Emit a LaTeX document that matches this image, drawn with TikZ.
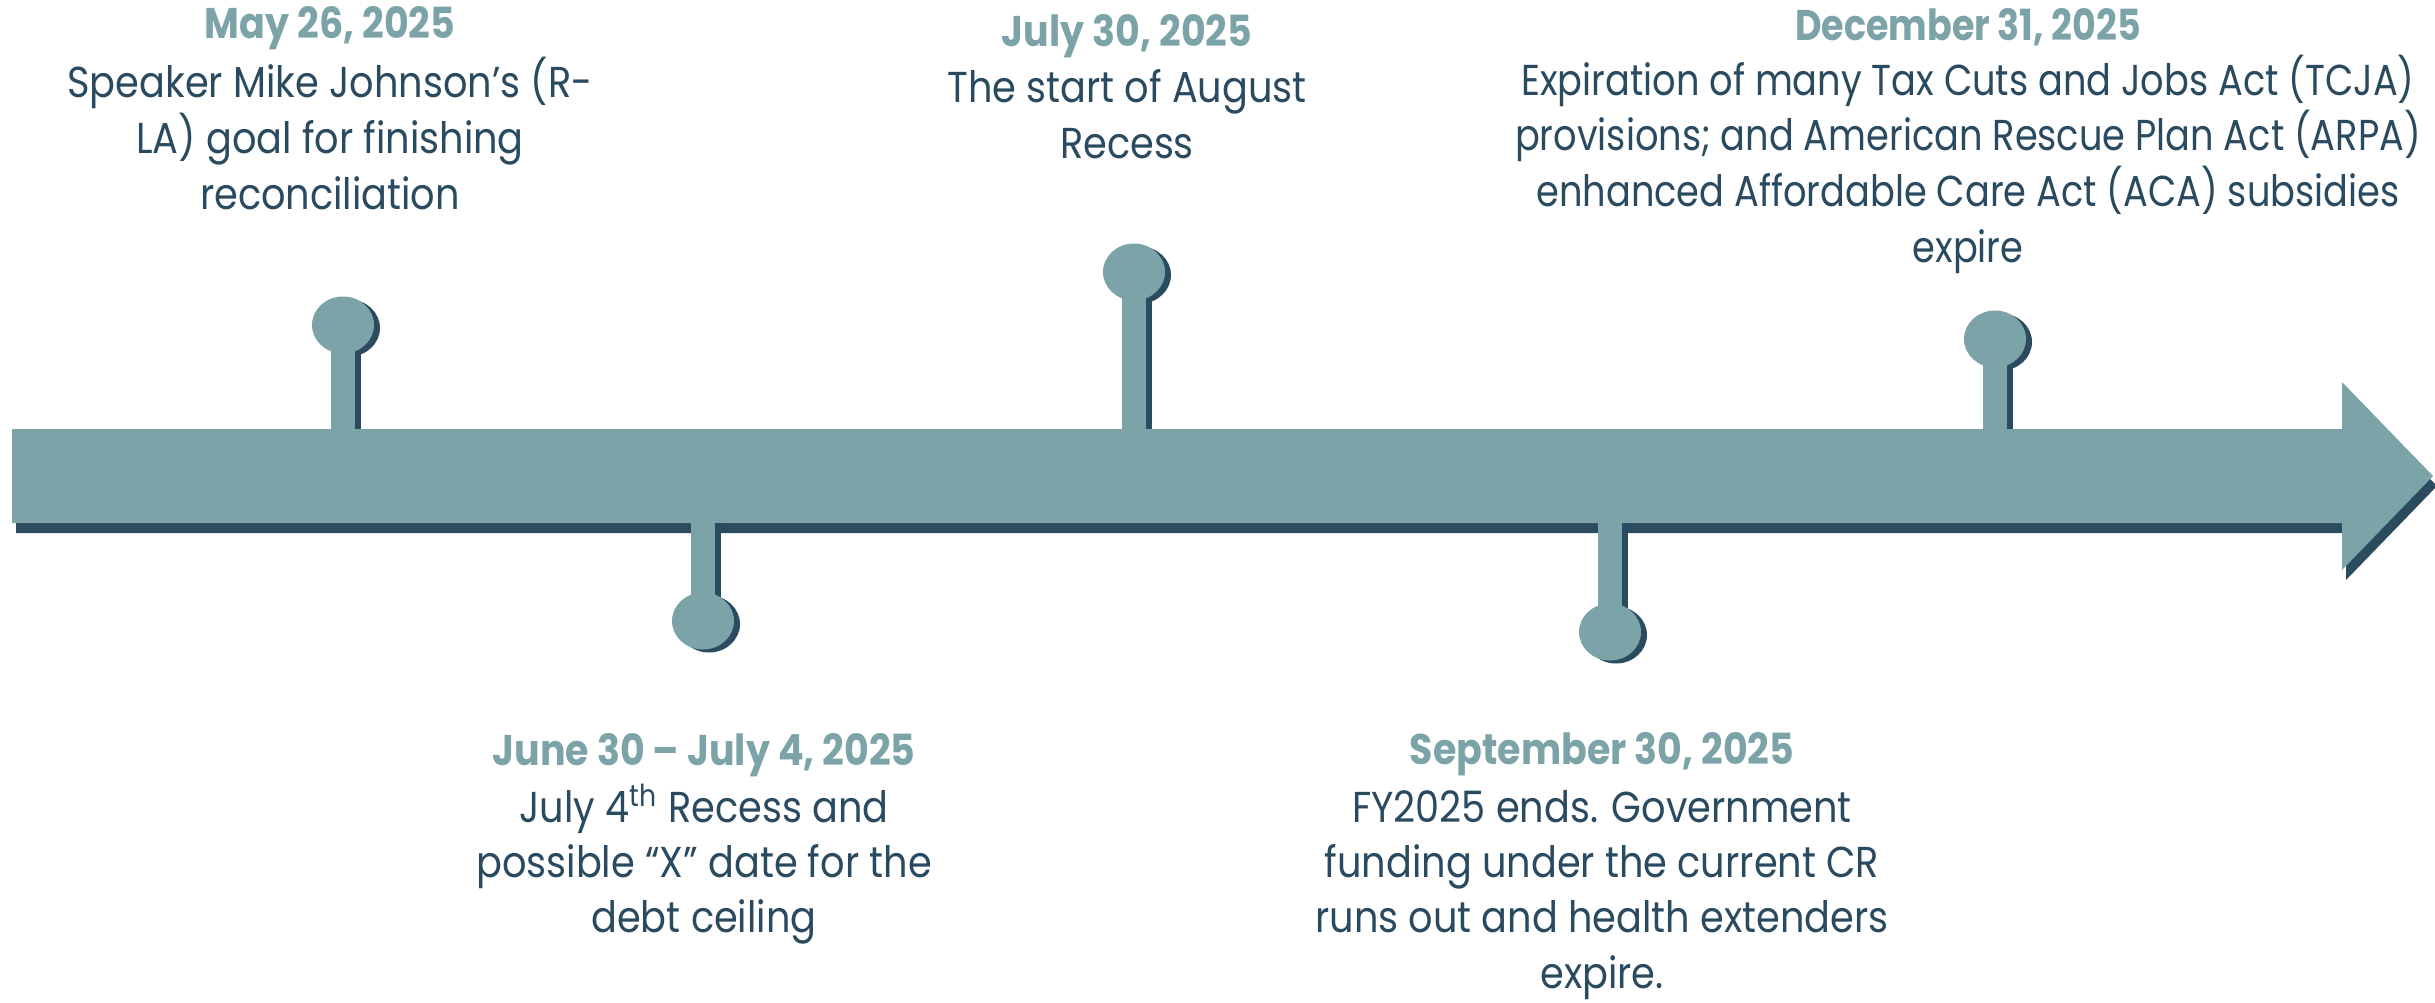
\documentclass[tikz,border=0pt]{standalone}
\usepackage{fontspec}
\setmainfont{Poppins}[FakeStretch=0.885]
\newfontfamily\decfont{Poppins}[FakeStretch=0.85]
\definecolor{tlTeal}{HTML}{7BA3A8}
\definecolor{tlDark}{HTML}{2C4B5F}
\definecolor{tlText}{HTML}{2A4A5F}
\begin{document}
\begin{tikzpicture}[x=0.01cm,y=-0.01cm,
  datetxt/.style={font=\bfseries\fontsize{12.2}{15.6}\selectfont, text=tlTeal, anchor=base, inner sep=0pt},
  bodytxt/.style={font=\fontsize{12.3}{15.6}\selectfont, text=tlText, anchor=base, inner sep=0pt},
  decdate/.style={font=\decfont\bfseries\fontsize{12.2}{15.6}\selectfont, text=tlTeal, anchor=base, inner sep=0pt},
  decbody/.style={font=\decfont\fontsize{12.3}{15.6}\selectfont, text=tlText, anchor=base, inner sep=0pt},
  shade/.style={fill=tlDark, draw=none},
  main/.style={fill=tlTeal, draw=none}]
\useasboundingbox (0,0) rectangle (2435,1002);
% arrow shadow and arrow
\path[shade] (16,439) -- (2346,439) -- (2346,392) -- (2437,486) -- (2346,580) -- (2346,533) -- (16,533) -- cycle;
\path[main] (12,429) -- (2342,429) -- (2342,382) -- (2433,476) -- (2342,570) -- (2342,523) -- (12,523) -- cycle;
% up pins
\foreach \px/\cy in {343/325, 1134/272, 1995/339}{
  \path[shade] (\px+6,\cy+3) ellipse [x radius=31, y radius=28.5];
  \path[shade] (\px-12+6,\cy) rectangle (\px+12+6,429);
  \path[main] (\px,\cy) ellipse [x radius=31, y radius=28.5];
  \path[main] (\px-12,\cy) rectangle (\px+12,440);
}
% down pins
\foreach \px/\cy in {703/621, 1610/632}{
  \path[shade] (\px+6,\cy+3) ellipse [x radius=31, y radius=28.5];
  \path[shade] (\px-12+6,523) rectangle (\px+12+6,\cy);
  \path[main] (\px,\cy) ellipse [x radius=31, y radius=28.5];
  \path[main] (\px-12,510) rectangle (\px+12,\cy);
}
% block 1
\node[datetxt] (d1) at (330,38) {May 26, 2025};
\node[bodytxt] (b1a) at (330,97) {Speaker Mike Johnson’s (R-};
\node[bodytxt] (b1b) at (330,153) {LA) goal for finishing};
\node[bodytxt] (b1c) at (330,209) {reconciliation};
% block 2
\node[datetxt] (d2) at (704,765) {June 30 – July 4, 2025};
\node[bodytxt] (b2a) at (704,822) {July 4\textsuperscript{th} Recess and};
\node[bodytxt] (b2b) at (704,877) {possible “X” date for the};
\node[bodytxt] (b2c) at (704,932) {debt ceiling};
% block 3
\node[datetxt] (d3) at (1127,46) {July 30, 2025};
\node[bodytxt] (b3a) at (1127,102) {The start of August};
\node[bodytxt] (b3b) at (1127,158) {Recess};
% block 4
\node[datetxt] (d4) at (1602,764) {September 30, 2025};
\node[bodytxt] (b4a) at (1602,822) {FY2025 ends. Government};
\node[bodytxt] (b4b) at (1602,877) {funding under the current CR};
\node[bodytxt] (b4c) at (1602,932) {runs out and health extenders};
\node[bodytxt] (b4d) at (1602,988) {expire.};
% block 5
\node[decdate] (d5) at (1968,40) {December 31, 2025};
\node[decbody] (b5a) at (1968,95) {Expiration of many Tax Cuts and Jobs Act (TCJA)};
\node[decbody] (b5b) at (1968,150) {provisions; and American Rescue Plan Act (ARPA)};
\node[decbody] (b5c) at (1968,206) {enhanced Affordable Care Act (ACA) subsidies};
\node[decbody] (b5d) at (1968,262) {expire};
\end{tikzpicture}
\end{document}
